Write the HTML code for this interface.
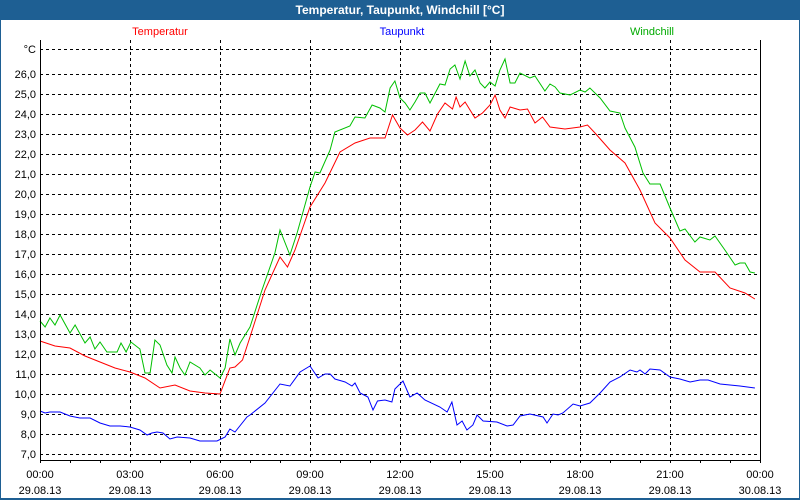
<!DOCTYPE html>
<html><head><meta charset="utf-8"><style>
html,body{margin:0;padding:0;background:#fff}
svg{display:block;font-family:"Liberation Sans",sans-serif}
</style></head><body>
<svg id="chart" width="800" height="500" viewBox="0 0 800 500">
<rect x="0" y="0" width="800" height="500" fill="#1e5f93"/>
<rect x="1" y="20" width="798" height="478" fill="#fff"/>
<text x="400" y="14" text-anchor="middle" fill="#fff" font-size="12" font-weight="bold">Temperatur, Taupunkt, Windchill [°C]</text>
<text x="160" y="35" text-anchor="middle" fill="#ff0000" font-size="11">Temperatur</text>
<text x="402" y="35" text-anchor="middle" fill="#0000ff" font-size="11">Taupunkt</text>
<text x="652" y="35" text-anchor="middle" fill="#00aa00" font-size="11">Windchill</text>
<g id="grid"></g><g id="series"></g><g id="axes"></g>
</svg>
<script>
const yTicks=[7,8,9,10,11,12,13,14,15,16,17,18,19,20,21,22,23,24,25,26];
const xTickHours=[0,3,6,9,12,15,18,21,24];
const xTimeLabels=["00:00","03:00","06:00","09:00","12:00","15:00","18:00","21:00","00:00"];
const xDateLabels=["29.08.13","29.08.13","29.08.13","29.08.13","29.08.13","29.08.13","29.08.13","29.08.13","30.08.13"];
const tempHours=[0,0.5,1,1.5,2,2.5,3,3.5,4,4.5,5,5.5,6,6.33,6.5,6.75,7,7.5,8,8.25,8.5,9,9.5,10,10.5,11,11.5,11.75,12,12.25,12.5,12.75,13,13.25,13.5,13.75,13.87,14,14.17,14.5,14.75,15,15.17,15.33,15.5,15.67,16,16.25,16.5,16.75,17,17.5,18,18.25,18.5,19,19.5,20,20.5,21,21.5,22,22.5,23,23.5,23.83];
const tempValues=[12.65,12.4,12.3,11.9,11.6,11.3,11.1,10.8,10.3,10.45,10.15,10.05,10.0,11.3,11.35,11.7,12.85,15.2,16.85,16.35,17.2,19.35,20.55,22.1,22.55,22.8,22.8,23.95,23.3,22.95,23.2,23.6,23.15,24.0,24.55,24.25,24.85,24.35,24.6,23.8,24.05,24.45,24.95,24.2,23.8,24.35,24.2,24.25,23.55,23.85,23.35,23.25,23.35,23.45,23.05,22.2,21.55,20.2,18.55,17.8,16.7,16.1,16.1,15.3,15.05,14.75];
const chillHours=[0,0.17,0.33,0.5,0.67,1,1.17,1.5,1.67,1.83,2,2.23,2.57,2.7,2.87,3.03,3.33,3.5,3.67,3.83,4,4.23,4.4,4.5,4.67,4.83,5,5.33,5.5,5.67,6,6.17,6.33,6.5,6.67,7,7.4,7.83,8,8.33,8.57,9,9.17,9.33,9.67,9.83,10.33,10.5,10.83,11.07,11.33,11.5,11.67,11.83,12,12.17,12.33,12.5,12.67,12.83,13,13.33,13.5,13.67,13.83,14,14.17,14.33,14.5,14.67,14.83,15,15.17,15.33,15.5,15.67,15.83,16,16.33,16.5,16.83,17,17.17,17.33,17.67,18,18.17,18.33,18.67,19,19.33,19.5,19.83,20.1,20.33,20.67,21,21.33,21.5,21.83,22,22.33,22.5,22.83,23.17,23.33,23.5,23.67,23.83];
const chillValues=[13.65,13.35,13.8,13.45,13.95,13.05,13.45,12.55,12.85,12.25,12.6,12.1,12.1,12.55,12.1,12.6,12.25,11.05,11.05,12.7,12.45,11.45,11.05,11.85,11.3,10.95,11.6,11.3,10.95,11.2,10.8,11.3,12.75,11.95,12.55,13.35,15.2,17.05,18.2,16.95,18.05,20.35,21.1,21.05,22.2,23.1,23.4,23.85,23.8,24.45,24.3,24.1,25.3,25.65,24.8,24.55,24.2,24.6,25.05,25.05,24.55,25.5,25.45,26.25,26.45,25.75,26.65,25.9,26.2,25.55,25.3,25.6,25.4,26.2,26.75,25.55,25.55,26.05,25.8,25.9,25.15,25.5,25.35,25.05,24.95,25.2,25.1,25.3,24.8,24.15,24.05,23.3,22.35,21.05,20.5,20.5,19.3,18.15,18.25,17.6,17.85,17.7,17.9,17.2,16.45,16.55,16.55,16.1,16.05];
const dewHours=[0,0.17,0.33,0.67,1,1.33,1.67,2,2.33,2.67,3,3.33,3.57,3.73,3.9,4.1,4.33,4.57,5,5.33,5.67,5.9,6.17,6.33,6.5,6.9,7,7.5,8,8.33,8.67,9,9.27,9.5,9.67,9.83,10.17,10.4,10.5,10.67,10.93,11.1,11.25,11.5,11.73,11.83,12.1,12.33,12.57,12.83,13.33,13.57,13.73,13.9,14.07,14.23,14.43,14.57,14.77,15.23,15.57,15.77,16,16.33,16.77,16.9,17.1,17.27,17.43,17.77,18,18.33,18.67,19,19.33,19.67,19.9,20,20.17,20.33,20.67,21,21.33,21.67,22,22.27,22.67,23.33,23.83];
const dewValues=[9.15,9.05,9.1,9.1,8.9,8.8,8.8,8.55,8.4,8.4,8.35,8.2,7.95,8.05,8.1,8.05,7.75,7.85,7.8,7.65,7.65,7.65,7.85,8.25,8.1,8.85,8.95,9.55,10.5,10.4,11.1,11.4,10.8,11.0,11.0,10.75,10.6,10.4,10.55,10.05,9.85,9.2,9.65,9.7,9.6,10.25,10.65,9.85,10.05,9.7,9.35,9.1,9.6,8.45,8.65,8.2,8.45,8.95,8.65,8.6,8.4,8.45,8.9,9.0,8.85,8.55,9.0,8.95,9.05,9.5,9.4,9.55,10.05,10.6,10.85,11.2,11.1,11.2,11.0,11.25,11.2,10.85,10.75,10.6,10.7,10.7,10.5,10.4,10.3];

const L=40,R=760,T=40,B=460;
const xScale=h=>L+h*(R-L)/24;
const yScale=v=>454-(v-7)*20;
const NS="http://www.w3.org/2000/svg";
function mk(tag,attrs,parent){const e=document.createElementNS(NS,tag);for(const k in attrs)e.setAttribute(k,attrs[k]);parent.appendChild(e);return e;}
const grid=document.getElementById('grid'),series=document.getElementById('series'),axes=document.getElementById('axes');

yTicks.forEach(v=>{
  const y=yScale(v)+0.5;
  const ln=mk('line',{x1:L,x2:R,y1:y,y2:y,stroke:'#000','stroke-dasharray':'3,3'},grid);
  
  
  const t=mk('text',{x:36,y:yScale(v)+4,'text-anchor':'end','font-size':'11',fill:'#000'},axes);
  t.textContent=v.toFixed(1).replace('.',',');
  
  
});
{
  const y=49.5;
  const ln=mk('line',{x1:L,x2:R,y1:y,y2:y,stroke:'#000','stroke-dasharray':'3,3'},grid);
  
  
  const t=mk('text',{x:36,y:53,'text-anchor':'end','font-size':'11',fill:'#000'},axes);
  t.textContent='°C';
  
  
}
xTickHours.forEach((h,i)=>{
  const x=Math.round(xScale(h))+0.5;
  if(h>0&&h<24){
    const ln=mk('line',{x1:x,x2:x,y1:T,y2:B+4,stroke:'#000','stroke-dasharray':'3,3'},grid);
    
    
  }
  const t1=mk('text',{x:xScale(h),y:478,'text-anchor':'middle','font-size':'11',fill:'#000'},axes);
  t1.textContent=xTimeLabels[i];
  
  
  const t2=mk('text',{x:xScale(h),y:494,'text-anchor':'middle','font-size':'11',fill:'#000'},axes);
  t2.textContent=xDateLabels[i];
  
  
});
for(let h=0;h<=24;h++){
  const x=Math.round(xScale(h))+0.5;
  const tk=mk('line',{x1:x,x2:x,y1:B,y2:B+3,stroke:'#000'},axes);
  
  
}
const ax=mk('path',{d:`M${L+0.5},${T} V${B+0.5} H${R+0.5} V${T}`,stroke:'#000',fill:'none'},axes);



function drawLine(hs,vs,color,name){
  const d=hs.map((h,i)=>(i?'L':'M')+xScale(h).toFixed(1)+','+yScale(vs[i]).toFixed(1)).join(' ');
  const p=mk('path',{d:d,stroke:color,fill:'none','stroke-width':'1'},series);
  
  
}
drawLine(dewHours,dewValues,'#0000ff','taupunkt-line');
drawLine(tempHours,tempValues,'#ff0000','temperatur-line');
drawLine(chillHours,chillValues,'#00c000','windchill-line');
</script>
</body></html>
